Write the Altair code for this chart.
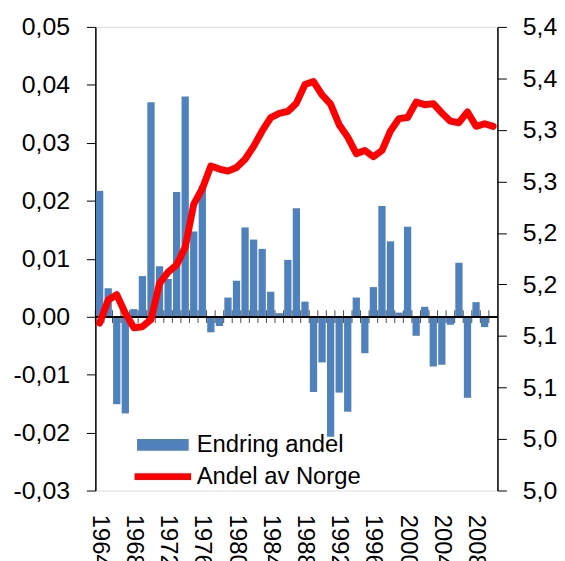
import altair as alt
import pandas as pd

years = list(range(1964, 2011))
endring = [0.0217, 0.0049, -0.0151, -0.0167, 0.0013, 0.0070, 0.0370, 0.0087, 0.0065, 0.0215,
           0.0380, 0.0147, 0.0226, -0.0027, -0.0016, 0.0033, 0.0062, 0.0154, 0.0133, 0.0117,
           0.0043, 0.0006, 0.0098, 0.0187, 0.0026, -0.0130, -0.0079, -0.0207, -0.0131, -0.0164,
           0.0033, -0.0063, 0.0051, 0.0191, 0.0130, 0.0007, 0.0155, -0.0033, 0.0017, -0.0086,
           -0.0083, -0.0014, 0.0093, -0.0140, 0.0025, -0.0018, None]
andel = [5.1325, 5.155, 5.160, 5.142, 5.128, 5.129, 5.136, 5.171, 5.182, 5.189,
         5.206, 5.248, 5.263, 5.285, 5.282, 5.280, 5.2835, 5.2915, 5.304, 5.319,
         5.332, 5.336, 5.338, 5.346, 5.364, 5.367, 5.354, 5.345, 5.325, 5.313,
         5.297, 5.300, 5.294, 5.300, 5.319, 5.331, 5.332, 5.347, 5.3445, 5.3455,
         5.3365, 5.3285, 5.327, 5.3375, 5.3235, 5.326, 5.3235]
year_labels = [1964, 1968, 1972, 1976, 1980, 1984, 1988, 1992, 1996, 2000, 2004, 2008]
left_ticks = [-0.03, -0.02, -0.01, 0.0, 0.01, 0.02, 0.03, 0.04, 0.05]
right_ticks = [4.97, 5.02, 5.07, 5.12, 5.17, 5.22, 5.27, 5.32, 5.37, 5.42]
bar_name = "Endring andel"
line_name = "Andel av Norge"

df = pd.DataFrame({"year": years, "endring": endring, "andel": andel})
df["s_bar"] = bar_name
df["s_line"] = line_name
df["zero"] = 0.0

FONT = "Liberation Sans"

xaxis = alt.Axis(values=year_labels, labelAngle=90, labelFontSize=24,
                 labelPadding=24, ticks=False, domain=False, title=None,
                 labelColor="black", labelFont=FONT)
xscale = alt.Scale(paddingInner=0, paddingOuter=0)

yscale = alt.Scale(domain=[-0.03, 0.05], nice=False, zero=False)
yaxis = alt.Axis(values=left_ticks, title=None, grid=False,
                 labelExpr="(datum.value < -0.0000001 ? '-' : '') + replace(format(abs(datum.value), '.2f'), '.', ',')",
                 tickSize=9, labelPadding=17, labelFontSize=25, labelFont=FONT,
                 labelColor="black", domainColor="black", tickColor="black",
                 domainWidth=1.5)

bars = alt.Chart(df).mark_bar(width=alt.RelativeBandSize(0.85)).encode(
    x=alt.X("year:O", scale=xscale, axis=xaxis),
    y=alt.Y("endring:Q", scale=yscale, axis=yaxis, title=None),
    fill=alt.Fill("s_bar:N",
                  scale=alt.Scale(domain=[bar_name], range=["#4F81BD"]),
                  legend=alt.Legend(title=None, orient="none", legendX=42, legendY=395,
                                    symbolType="M-1,-0.23H1V0.23H-1Z", symbolSize=2704,
                                    symbolStrokeWidth=0, labelFontSize=24, labelFont=FONT,
                                    labelColor="black", labelOffset=8, padding=0,
                                    labelLimit=300)),
)

zero_rule = alt.Chart(df).mark_rule(color="black", strokeWidth=1.5).encode(
    y=alt.Y("zero:Q", scale=yscale, axis=yaxis, title=None)
)

zero_ticks = alt.Chart(df).mark_tick(orient="vertical", size=13, thickness=1, color="black").encode(
    x=alt.X("year:O", bandPosition=0, scale=xscale, axis=xaxis),
    y=alt.Y("zero:Q", scale=yscale, axis=yaxis, title=None),
)

left = alt.layer(bars, zero_rule, zero_ticks)

line = alt.Chart(df).mark_line(strokeWidth=7, strokeCap="round", strokeJoin="round").encode(
    x=alt.X("year:O", scale=xscale, axis=xaxis),
    y=alt.Y("andel:Q",
            scale=alt.Scale(domain=[4.97, 5.42], nice=False, zero=False),
            axis=alt.Axis(orient="right", values=right_ticks, title=None, grid=False,
                          labelExpr="replace(format(datum.value, '.1f'), '.', ',')",
                          tickSize=9, labelPadding=16, labelFontSize=25, labelFont=FONT,
                          labelColor="black", domainColor="black", tickColor="black",
                          domainWidth=1.5)),
    stroke=alt.Stroke("s_line:N",
                      scale=alt.Scale(domain=[line_name], range=["#FF0000"]),
                      legend=alt.Legend(title=None, orient="none", legendX=36, legendY=421,
                                        symbolType="stroke", symbolSize=3249,
                                        symbolStrokeWidth=7, labelFontSize=24, labelFont=FONT,
                                        labelColor="black", labelOffset=2, padding=0,
                                        labelLimit=300)),
)

chart = alt.layer(left, line).resolve_scale(y="independent").properties(
    width=405, height=467,
    autosize=alt.AutoSizeParams(type="none"),
    padding={"left": 88, "top": 17, "right": 60, "bottom": 76},
).configure_view(stroke="#888888", strokeWidth=2).configure(font=FONT)

chart.save("out.html", embed_options={"renderer": "svg", "actions": False})
